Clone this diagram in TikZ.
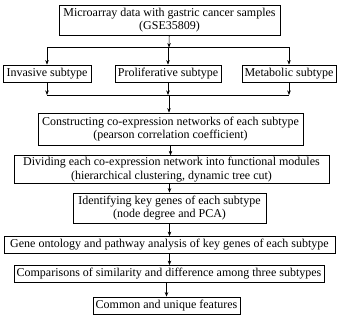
\documentclass[tikz,border=0pt]{standalone}
\usepackage{fontspec}
\setmainfont{Liberation Serif}
\usetikzlibrary{arrows.meta,positioning}

\begin{document}
\begin{tikzpicture}[x=1pt, y=-1pt, >={Stealth[length=4.5pt,width=3.5pt]},
  font=\fontsize{12}{13.5}\selectfont,
  stepbox/.style={draw, line width=0.8pt, align=center, inner xsep=1pt, inner ysep=1.5pt, minimum height=17pt},
  link/.style={line width=0.6pt}]
\useasboundingbox (0,0) rectangle (340,320);
\node[stepbox, minimum width=221pt, minimum height=30pt] (data) at (169.5,20) {Microarray data with gastric cancer samples\\(GSE35809)};
\node[stepbox, minimum width=88pt] (inv) at (47,73.5) {Invasive subtype};
\node[stepbox, minimum width=106pt] (pro) at (168,73.5) {Proliferative subtype};
\node[stepbox, minimum width=94pt] (meta) at (289,73.5) {Metabolic subtype};
\node[stepbox, minimum width=265pt, minimum height=32pt] (net) at (170.5,129) {Constructing co-expression networks of each subtype\\(pearson correlation coefficient)};
\node[stepbox, minimum width=315pt, minimum height=27pt] (mod) at (171.5,169.5) {Dividing each co-expression network into functional modules\\(hierarchical clustering, dynamic tree cut)};
\node[stepbox, minimum width=193pt, minimum height=30pt] (key) at (169.5,208) {Identifying key genes of each subtype\\(node degree and PCA)};
\node[stepbox, minimum width=331pt] (go) at (169.5,245) {Gene ontology and pathway analysis of key genes of each subtype};
\node[stepbox, minimum width=310pt] (cmp) at (169,274) {Comparisons of similarity and difference among three subtypes};
\node[stepbox, minimum width=147pt] (feat) at (166.5,305.5) {Common and unique features};
% split and merge lines
\coordinate (split) at (169,47.5);
\coordinate (merge) at (169,95);
\draw[link, ->] (data) -- (split);
\draw[link] (split -| inv) -- (split -| meta);
\foreach \s in {inv,pro,meta} {
  \draw[link, ->] (split -| \s) -- (\s);
  \draw[link, ->] (\s) -- (merge -| \s);
}
\draw[link] (merge -| inv) -- (merge -| meta);
\draw[link, ->] (merge) -- (merge |- net.north);
\draw[link, ->] (net) -- (net |- mod.north);
\draw[link, ->] (mod.south -| key) -- (key);
\draw[link, ->] (key) -- (key |- go.north);
\draw[link, ->] (go) -- (go |- cmp.north);
\draw[link, ->] (cmp.south -| feat) -- (feat);
\end{tikzpicture}
\end{document}
